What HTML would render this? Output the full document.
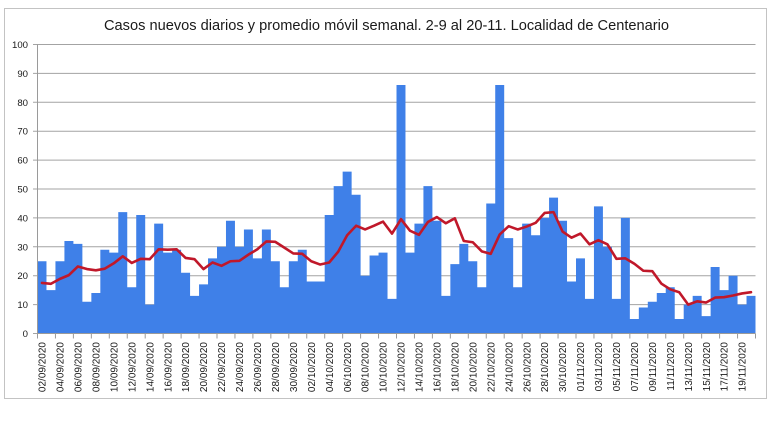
<!DOCTYPE html>
<html>
<head>
<meta charset="utf-8">
<style>
html,body{margin:0;padding:0;background:#fff;}
svg{display:block;}
text{font-family:"Liberation Sans",Arial,sans-serif;fill:#1a1a1a;}
</style>
</head>
<body>
<svg width="770" height="435" viewBox="0 0 770 435" xmlns="http://www.w3.org/2000/svg">
<rect x="0" y="0" width="770" height="435" fill="#ffffff"/>
<rect x="4.5" y="8.5" width="762" height="390" fill="#ffffff" stroke="#c3c3c3" stroke-width="1"/>

<text x="104" y="30" font-size="15" textLength="565" lengthAdjust="spacingAndGlyphs">Casos nuevos diarios y promedio móvil semanal. 2-9 al 20-11. Localidad de Centenario</text>

<!-- gridlines -->
<g transform="translate(0,333.5) scale(1,-2.89)" fill="none" stroke="#a3a3a3">
<path vector-effect="non-scaling-stroke" stroke-width="1" d="M33 10H755.5M33 20H755.5M33 30H755.5M33 40H755.5M33 50H755.5M33 60H755.5M33 70H755.5M33 80H755.5M33 90H755.5M33 100H755.5M33 0H37.5"/>
</g>

<!-- bars -->
<g transform="translate(37.5,333.5) scale(8.975,-2.89)">
<path fill="#3f80e8" d="M0 0V25h1V15h1V25h1V32h1V31h1V11h1V14h1V29h1V28h1V42h1
V16h1V41h1V10h1V38h1V28h1V29h1V21h1V13h1V17h1V26h1
V30h1V39h1V30h1V36h1V26h1V36h1V25h1V16h1V25h1V29h1
V18h1V18h1V41h1V51h1V56h1V48h1V20h1V27h1V28h1V12h1
V86h1V28h1V38h1V51h1V39h1V13h1V24h1V31h1V25h1V16h1
V45h1V86h1V33h1V16h1V38h1V34h1V40h1V47h1V39h1V18h1
V26h1V12h1V44h1V30h1V12h1V40h1V5h1V9h1V11h1V14h1
V16h1V5h1V10h1V13h1V6h1V23h1V15h1V20h1V10h1V13h1V0Z"/>
<polyline fill="none" stroke="#c0182a" stroke-width="2.6" stroke-linejoin="round" stroke-linecap="round" vector-effect="non-scaling-stroke"
points="0.5,17.5 1.5,17.2 2.5,18.9 3.5,20.2 4.5,23.2 5.5,22.3 6.5,21.86 7.5,22.43 8.5,24.29 9.5,26.71 10.5,24.43 11.5,25.86 12.5,25.71 13.5,29.14 14.5,29 15.5,29.14 16.5,26.14 17.5,25.71 18.5,22.29 19.5,24.57 20.5,23.43 21.5,25 22.5,25.14 23.5,27.29 24.5,29.14 25.5,31.86 26.5,31.71 27.5,29.71 28.5,27.71 29.5,27.57 30.5,25 31.5,23.86 32.5,24.57 33.5,28.29 34.5,34 35.5,37.29 36.5,36 37.5,37.29 38.5,38.71 39.5,34.57 40.5,39.57 41.5,35.57 42.5,34.14 43.5,38.57 44.5,40.29 45.5,38.14 46.5,39.86 47.5,32 48.5,31.57 49.5,28.43 50.5,27.57 51.5,34.29 52.5,37.14 53.5,36 54.5,37 55.5,38.29 56.5,41.71 57.5,42 58.5,35.29 59.5,33.14 60.5,34.57 61.5,30.86 62.5,32.29 63.5,30.86 64.5,25.86 65.5,26 66.5,24.14 67.5,21.71 68.5,21.57 69.5,17.29 70.5,15.29 71.5,14.29 72.5,10 73.5,11.14 74.5,10.71 75.5,12.43 76.5,12.57 77.5,13.14 78.5,13.86 79.5,14.29"/>
</g>

<!-- axes -->
<path d="M37.5 44.5V333.5H755.5" fill="none" stroke="#9a9a9a" stroke-width="1"/>
<g transform="translate(37.5,0) scale(8.975,1)" fill="none" stroke="#9a9a9a">
<path vector-effect="non-scaling-stroke" stroke-width="1" d="M0 333.5v5M2 333.5v5M4 333.5v5M6 333.5v5M8 333.5v5M10 333.5v5M12 333.5v5M14 333.5v5M16 333.5v5M18 333.5v5M20 333.5v5M22 333.5v5M24 333.5v5M26 333.5v5M28 333.5v5M30 333.5v5M32 333.5v5M34 333.5v5M36 333.5v5M38 333.5v5M40 333.5v5M42 333.5v5M44 333.5v5M46 333.5v5M48 333.5v5M50 333.5v5M52 333.5v5M54 333.5v5M56 333.5v5M58 333.5v5M60 333.5v5M62 333.5v5M64 333.5v5M66 333.5v5M68 333.5v5M70 333.5v5M72 333.5v5M74 333.5v5M76 333.5v5M78 333.5v5M80 333.5v5"/>
</g>

<!-- y labels -->
<g font-size="9.6" text-anchor="end">
<text x="28" y="48">100</text>
<text x="28" y="76.9">90</text>
<text x="28" y="105.8">80</text>
<text x="28" y="134.7">70</text>
<text x="28" y="163.6">60</text>
<text x="28" y="192.5">50</text>
<text x="28" y="221.4">40</text>
<text x="28" y="250.3">30</text>
<text x="28" y="279.2">20</text>
<text x="28" y="308.1">10</text>
<text x="28" y="337">0</text>
</g>

<!-- x labels -->
<g font-size="10" text-anchor="end">
<text transform="translate(45.6,342) rotate(-90)">02/09/2020</text>
<text transform="translate(63.55,342) rotate(-90)">04/09/2020</text>
<text transform="translate(81.5,342) rotate(-90)">06/09/2020</text>
<text transform="translate(99.45,342) rotate(-90)">08/09/2020</text>
<text transform="translate(117.4,342) rotate(-90)">10/09/2020</text>
<text transform="translate(135.35,342) rotate(-90)">12/09/2020</text>
<text transform="translate(153.3,342) rotate(-90)">14/09/2020</text>
<text transform="translate(171.25,342) rotate(-90)">16/09/2020</text>
<text transform="translate(189.2,342) rotate(-90)">18/09/2020</text>
<text transform="translate(207.15,342) rotate(-90)">20/09/2020</text>
<text transform="translate(225.1,342) rotate(-90)">22/09/2020</text>
<text transform="translate(243.05,342) rotate(-90)">24/09/2020</text>
<text transform="translate(261,342) rotate(-90)">26/09/2020</text>
<text transform="translate(278.95,342) rotate(-90)">28/09/2020</text>
<text transform="translate(296.9,342) rotate(-90)">30/09/2020</text>
<text transform="translate(314.85,342) rotate(-90)">02/10/2020</text>
<text transform="translate(332.8,342) rotate(-90)">04/10/2020</text>
<text transform="translate(350.75,342) rotate(-90)">06/10/2020</text>
<text transform="translate(368.7,342) rotate(-90)">08/10/2020</text>
<text transform="translate(386.65,342) rotate(-90)">10/10/2020</text>
<text transform="translate(404.6,342) rotate(-90)">12/10/2020</text>
<text transform="translate(422.55,342) rotate(-90)">14/10/2020</text>
<text transform="translate(440.5,342) rotate(-90)">16/10/2020</text>
<text transform="translate(458.45,342) rotate(-90)">18/10/2020</text>
<text transform="translate(476.4,342) rotate(-90)">20/10/2020</text>
<text transform="translate(494.35,342) rotate(-90)">22/10/2020</text>
<text transform="translate(512.3,342) rotate(-90)">24/10/2020</text>
<text transform="translate(530.25,342) rotate(-90)">26/10/2020</text>
<text transform="translate(548.2,342) rotate(-90)">28/10/2020</text>
<text transform="translate(566.15,342) rotate(-90)">30/10/2020</text>
<text transform="translate(584.1,342) rotate(-90)">01/11/2020</text>
<text transform="translate(602.05,342) rotate(-90)">03/11/2020</text>
<text transform="translate(620,342) rotate(-90)">05/11/2020</text>
<text transform="translate(637.95,342) rotate(-90)">07/11/2020</text>
<text transform="translate(655.9,342) rotate(-90)">09/11/2020</text>
<text transform="translate(673.85,342) rotate(-90)">11/11/2020</text>
<text transform="translate(691.8,342) rotate(-90)">13/11/2020</text>
<text transform="translate(709.75,342) rotate(-90)">15/11/2020</text>
<text transform="translate(727.7,342) rotate(-90)">17/11/2020</text>
<text transform="translate(745.65,342) rotate(-90)">19/11/2020</text>
</g>
</svg>
</body>
</html>
